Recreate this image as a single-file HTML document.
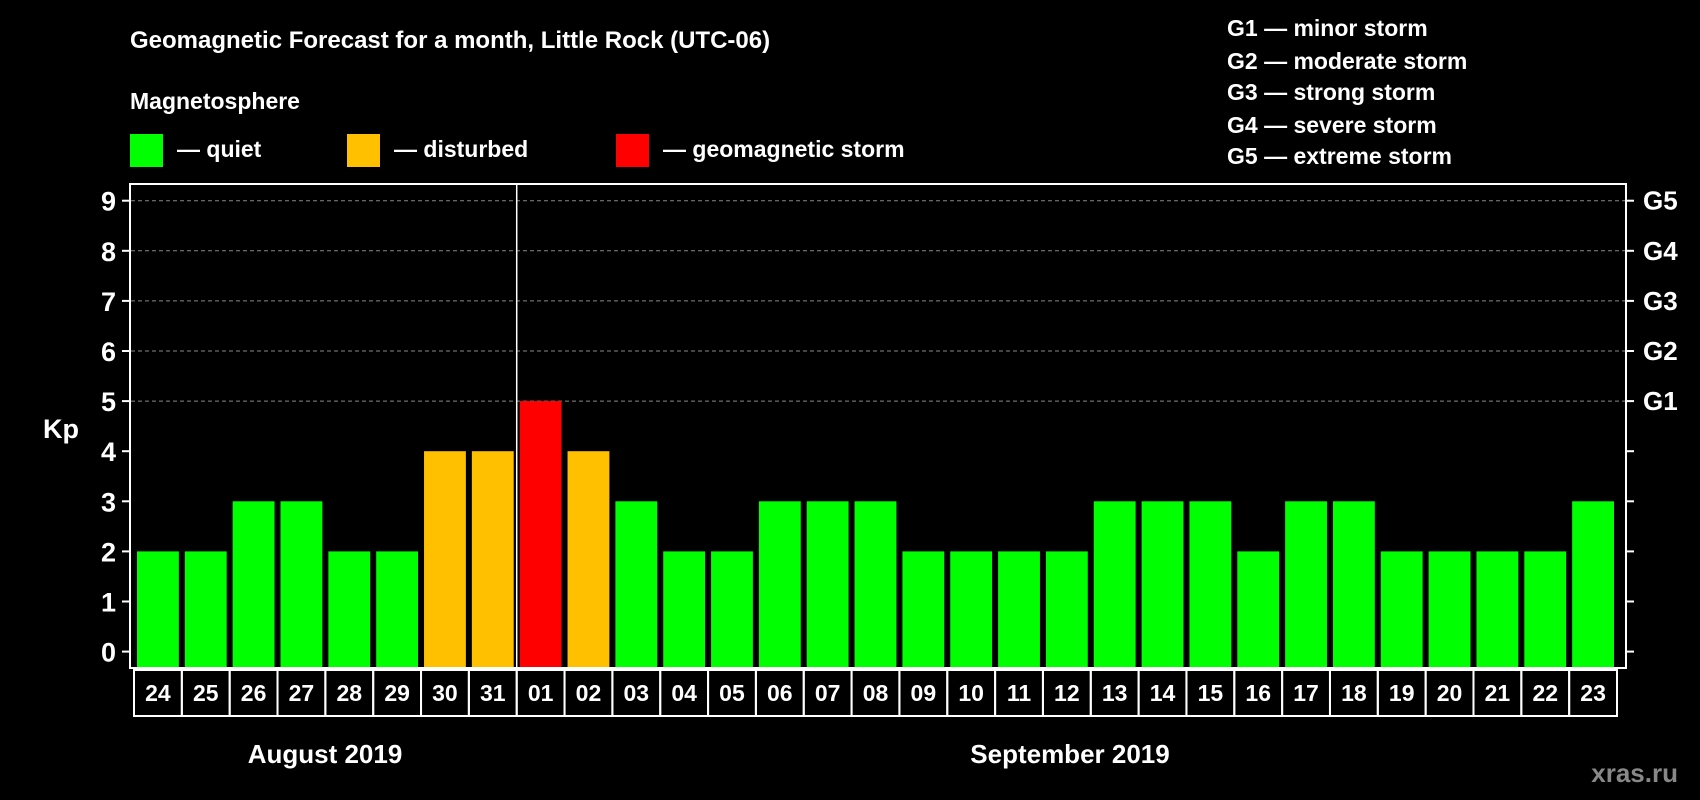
<!DOCTYPE html>
<html><head><meta charset="utf-8"><style>
html,body{margin:0;padding:0;background:#000;}
svg{display:block;font-family:"Liberation Sans",Arial,sans-serif;font-weight:bold;}
</style></head><body>
<svg id="chart" width="1700" height="800" viewBox="0 0 1700 800">
<text x="130" y="48" fill="#fff" font-size="24">Geomagnetic Forecast for a month, Little Rock (UTC-06)</text>
<text x="130" y="109" fill="#fff" font-size="23">Magnetosphere</text>
<rect x="130" y="134" width="33" height="33" fill="#00ff00"/>
<text x="177" y="157" fill="#fff" font-size="23">— quiet</text>
<rect x="347" y="134" width="33" height="33" fill="#ffc000"/>
<text x="394" y="157" fill="#fff" font-size="23">— disturbed</text>
<rect x="616" y="134" width="33" height="33" fill="#ff0000"/>
<text x="663" y="157" fill="#fff" font-size="23">— geomagnetic storm</text>
<g fill="#fff" font-size="23">
<text x="1227" y="36">G1 — minor storm</text>
<text x="1227" y="69">G2 — moderate storm</text>
<text x="1227" y="100">G3 — strong storm</text>
<text x="1227" y="133">G4 — severe storm</text>
<text x="1227" y="164">G5 — extreme storm</text>
</g>
<text x="43" y="438" fill="#fff" font-size="27">Kp</text>
<g id="grid"></g>
<g id="bars"></g>
<rect x="130" y="184" width="1496" height="484" fill="none" stroke="#fff" stroke-width="2"/>
<g id="dates"></g>
<text x="325" y="763" fill="#fff" font-size="26" text-anchor="middle">August 2019</text>
<text x="1070" y="763" fill="#fff" font-size="26" text-anchor="middle">September 2019</text>
<text x="1678" y="782" fill="#888" font-size="26" text-anchor="end">xras.ru</text>
</svg>
<script>
const days=["24","25","26","27","28","29","30","31","01","02","03","04","05","06","07","08","09","10","11","12","13","14","15","16","17","18","19","20","21","22","23"];
const kp=[2,2,3,3,2,2,4,4,5,4,3,2,2,3,3,3,2,2,2,2,3,3,3,2,3,3,2,2,2,2,3];
const yTicks=[0,1,2,3,4,5,6,7,8,9];
const gLabels=["G1","G2","G3","G4","G5"];
const NS="http://www.w3.org/2000/svg";
const x0=137,slot=(1620-137)/days.length,bw=slot-6;
const y=v=>651.6-v*50.1;
const xs=i=>x0+i*slot;
function mk(t,a,p){const e=document.createElementNS(NS,t);for(const k in a)e.setAttribute(k,a[k]);p.appendChild(e);return e;}
const grid=document.getElementById('grid'),bars=document.getElementById('bars'),dates=document.getElementById('dates');
yTicks.forEach(v=>{
  if(v>=5){const l=mk('line',{x1:131,x2:1625,y1:y(v),y2:y(v),stroke:'#888','stroke-dasharray':'4 3','stroke-width':1},grid);
    
    }
  const t1=mk('line',{x1:122,x2:130,y1:y(v),y2:y(v),stroke:'#fff','stroke-width':2},grid);
  
  
  const t2=mk('line',{x1:1626,x2:1634,y1:y(v),y2:y(v),stroke:'#fff','stroke-width':2},grid);
  
  
  const tx=mk('text',{x:116,y:y(v)+10,fill:'#fff','font-size':27,'text-anchor':'end'},grid);tx.textContent=v;
  
  
});
gLabels.forEach((g,i)=>{const t=mk('text',{x:1643,y:y(5+i)+9,fill:'#fff','font-size':26},grid);t.textContent=g;
  
  });
const vl=mk('line',{x1:xs(8)-3,x2:xs(8)-3,y1:184,y2:668,stroke:'#fff','stroke-width':1.5},grid);


kp.forEach((v,i)=>{
  const c=v>=5?'#ff0000':v>=4?'#ffc000':'#00ff00';
  const r=mk('rect',{x:xs(i),y:y(v),width:bw,height:667-y(v),fill:c},bars);
  
  
  const b=mk('rect',{x:xs(i)-3,y:670,width:slot,height:46,fill:'none',stroke:'#fff','stroke-width':2},dates);
  
  
  const t=mk('text',{x:xs(i)-3+slot/2,y:701,fill:'#fff','font-size':23,'text-anchor':'middle'},dates);t.textContent=days[i];
  
  
});
</script>
</body></html>
